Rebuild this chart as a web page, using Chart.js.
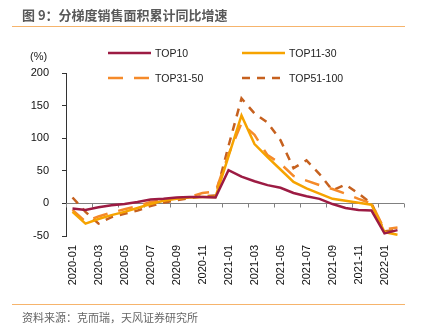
<!DOCTYPE html>
<html>
<head>
<meta charset="utf-8">
<script src="https://cdn.jsdelivr.net/npm/chart.js@4.4.1/dist/chart.umd.min.js"></script>
<style>
  html, body { margin: 0; padding: 0; background: #fff; }
  #wrap { position: relative; width: 425px; height: 324px; overflow: hidden; }
  #chart { position: absolute; left: 0; top: 0; }
  .title { position: absolute; left: 22px; top: 5px; font: bold 13px "Noto Sans CJK SC", sans-serif; color: #595959; white-space: nowrap; }
  .rule { position: absolute; left: 12px; width: 393px; height: 1px; background: #f6b46c; }
  .source { position: absolute; left: 22px; top: 309px; font: 11px "Noto Sans CJK SC", sans-serif; color: #666; white-space: nowrap; }
  .unit { position: absolute; left: 30px; top: 50px; font: 11px "Liberation Sans", Arial, sans-serif; color: #222; }
  .legend-item { position: absolute; height: 12px; display: flex; align-items: center; font: 10.5px "Liberation Sans", Arial, sans-serif; color: #222; white-space: nowrap; }
  .legend-item svg { margin-right: 4px; }
</style>
</head>
<body>
<div id="wrap">
  <canvas id="chart" width="425" height="324"></canvas>
  <div class="title">图 9：分梯度销售面积累计同比增速</div>
  <div class="rule" style="top:26px"></div>
  <div class="unit">(%)</div>
  <div id="legend"></div>
  <div class="rule" style="top:304px"></div>
  <div class="source">资料来源：克而瑞，天风证券研究所</div>
</div>
<script>
// 月份：2020-01 ~ 2022-02
const months = [
  '2020-01', '2020-02', '2020-03', '2020-04', '2020-05', '2020-06', '2020-07', '2020-08', '2020-09',
  '2020-10', '2020-11', '2020-12', '2021-01', '2021-02', '2021-03', '2021-04', '2021-05', '2021-06',
  '2021-07', '2021-08', '2021-09', '2021-10', '2021-11', '2021-12', '2022-01', '2022-02'
];

// 各梯度房企累计同比 (%)
const top10 = [-8, -10, -6, -3, -1, 2, 6, 7, 9, 10, 10, 9, 51, 41, 34, 28, 24, 16, 11, 7, -1, -7, -10, -11, -46, -41];
const top11to30 = [-13, -31, -24, -18, -13, -7, -1, 4, 7, 9, 10, 10, 72, 135, 91, 71, 52, 33, 23, 15, 7, 4, 1, -2, -44, -48];
const top31to50 = [-10, -28, -20, -14, -9, -4, 2, 5, 8, 10, 16, 18, 75, 123, 105, 74, 61, 42, 35, 28, 22, 15, 7, 0, -40, -37];
const top51to100 = [9, -13, -31, -21, -16, -11, -4, 1, 5, 8, 11, 12, 88, 161, 138, 124, 97, 54, 66, 45, 20, 29, 15, 0, -43, -40];

const seriesNames = ['TOP10', 'TOP11-30', 'TOP31-50', 'TOP51-100'];
const seriesData = [top10, top11to30, top31to50, top51to100];
const seriesColors = ['#9c1b43', '#f6a300', '#f58a2a', '#c6611f'];
const seriesDash = [[], [], [15, 11], [8, 7]];

const yTicks = [-50, 0, 50, 100, 150, 200];

// 零轴 + 每两个月一个刻度
const zeroAxis = {
  id: 'zeroAxis',
  beforeDatasetsDraw(chart) {
    const { ctx, chartArea, scales: { x, y } } = chart;
    const y0 = Math.round(y.getPixelForValue(0)) + 0.5;
    const half = (x.getPixelForValue(1) - x.getPixelForValue(0)) / 2;
    ctx.save();
    ctx.strokeStyle = '#808080';
    ctx.lineWidth = 1;
    ctx.beginPath();
    ctx.moveTo(chartArea.left, y0);
    ctx.lineTo(chartArea.right, y0);
    for (let i = 0; i <= months.length; i += 2) {
      const px = Math.round(x.getPixelForValue(i) - half) + 0.5;
      ctx.moveTo(px, y0);
      ctx.lineTo(px, y0 + 4);
    }
    ctx.stroke();
    ctx.restore();
  }
};

new Chart(document.getElementById('chart'), {
  type: 'line',
  data: {
    labels: months,
    datasets: seriesNames.map((name, i) => ({
      label: name,
      data: seriesData[i],
      borderColor: seriesColors[i],
      backgroundColor: seriesColors[i],
      borderDash: seriesDash[i],
      borderWidth: 2.5,
      pointRadius: 0,
      tension: 0,
      fill: false
    }))
  },
  options: {
    responsive: false,
    animation: false,
    layout: { padding: { left: 0, right: 21, top: 73, bottom: 28 } },
    plugins: { legend: { display: false }, tooltip: { enabled: false } },
    scales: {
      x: {
        offset: true,
        grid: { display: false, drawTicks: false },
        border: { display: false },
        ticks: {
          autoSkip: false,
          minRotation: 90,
          maxRotation: 90,
          padding: 9,
          color: '#111',
          font: { family: '"Liberation Sans", Arial, sans-serif', size: 11 },
          callback: (v, i) => (i % 2 === 0 ? months[i] : '')
        },
        afterFit: s => { s.height = 60; }
      },
      y: {
        min: -50,
        max: 200,
        afterBuildTicks: s => { s.ticks = yTicks.map(v => ({ value: v })); },
        grid: { drawOnChartArea: false, tickLength: 4, tickColor: '#333' },
        border: { display: true, color: '#333', width: 1 },
        ticks: {
          padding: 13,
          color: '#111',
          font: { family: '"Liberation Sans", Arial, sans-serif', size: 11 }
        },
        afterFit: s => { s.width = 66; }
      }
    }
  },
  plugins: [zeroAxis]
});

// 图例：两列两行
const legendPos = [[108, 47], [242, 47], [108, 72], [242, 72]];
const legend = document.getElementById('legend');
seriesNames.forEach((name, i) => {
  const item = document.createElement('div');
  item.className = 'legend-item';
  item.style.left = legendPos[i][0] + 'px';
  item.style.top = legendPos[i][1] + 'px';
  const dash = seriesDash[i].length ? seriesDash[i].join(',') : 'none';
  item.innerHTML =
    `<svg width="43" height="4"><line x1="0" y1="2" x2="43" y2="2" stroke="${seriesColors[i]}" stroke-width="2.5" stroke-dasharray="${dash}"/></svg>` +
    `<span>${name}</span>`;
  legend.appendChild(item);
});
</script>
</body>
</html>
